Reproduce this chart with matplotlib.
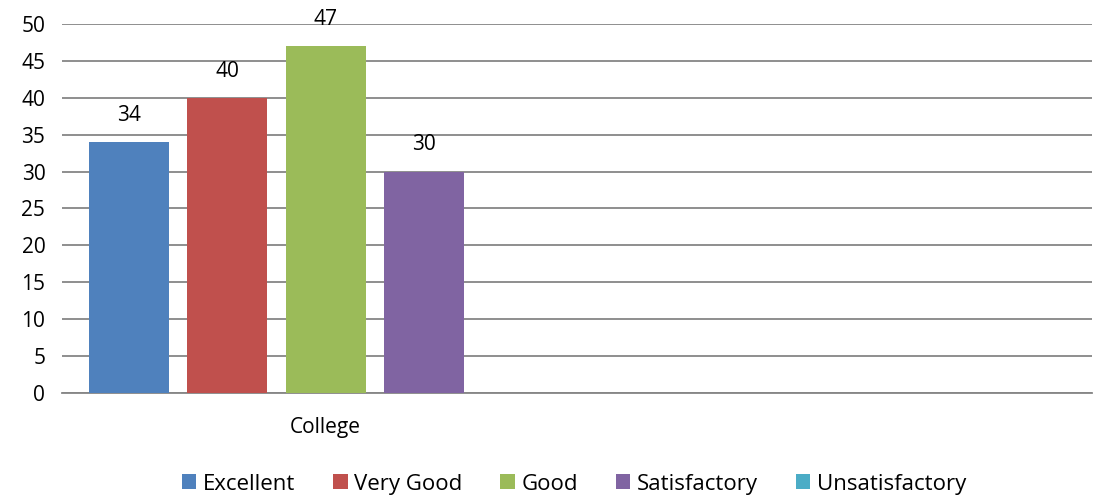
import matplotlib
matplotlib.use("Agg")
import matplotlib.pyplot as plt
import numpy as np

categories = ["College", ""]
series = ["Excellent", "Very Good", "Good", "Satisfactory", "Unsatisfactory"]
values = [34, 40, 47, 30, None]
colors = ["#4F81BD", "#C0504D", "#9BBB59", "#8064A2", "#4BACC6"]

plt.rcParams["font.family"] = ["Open Sans", "DejaVu Sans"]

fig = plt.figure(figsize=(11.08, 5.03), dpi=100)
ax = fig.add_axes([62 / 1108, 1 - 393 / 503, 1030 / 1108, 369 / 503])

width = 0.155
step = 0.191
shift = 0.012
for i, (name, val, col) in enumerate(zip(series, values, colors)):
    x = (i - 2) * step + shift
    h = 0 if val is None else val
    ax.bar([x], [h], width=width, color=col, label=name, zorder=3)
    if val is not None:
        ax.text(x, val + 2.2, str(val), ha="center", va="bottom", fontsize=15)

ax.set_xlim(-0.5, 1.5)
ax.set_ylim(0, 50)
ax.set_yticks(np.arange(0, 51, 5))
ax.set_xticks([shift])
ax.set_xticklabels([categories[0]])
ax.tick_params(axis="both", length=0, labelsize=15)
ax.tick_params(axis="x", pad=17)
ax.tick_params(axis="y", pad=12)

ax.grid(axis="y", color="#868686", linewidth=1.3, zorder=0)
for s in ["top", "right", "left"]:
    ax.spines[s].set_visible(False)
ax.spines["bottom"].set_color("#868686")
ax.spines["bottom"].set_linewidth(1.3)

ax.legend(loc="center", bbox_to_anchor=(0.497, -0.247), ncol=5, frameon=False,
          fontsize=16, handlelength=0.65, handleheight=0.65, handletextpad=0.3,
          columnspacing=1.7)

fig.savefig("out.png", dpi=100)
